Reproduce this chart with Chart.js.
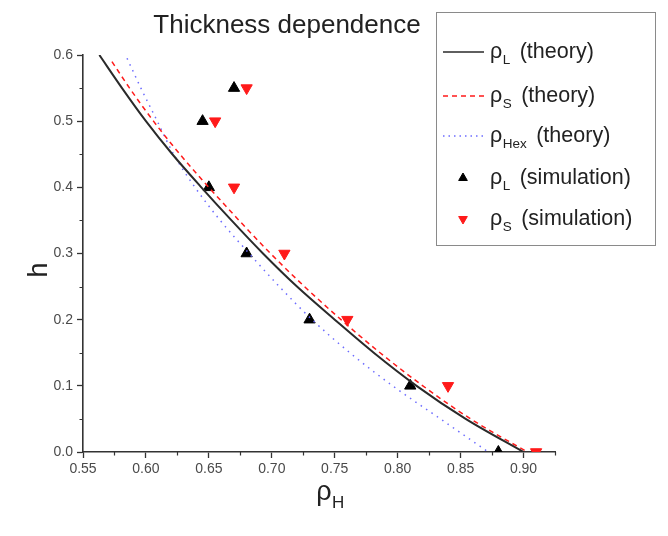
<!DOCTYPE html>
<html>
<head>
<meta charset="utf-8">
<script src="https://cdn.jsdelivr.net/npm/chart.js@4"></script>
<style>
  html, body { margin: 0; padding: 0; background: #fff; }
  #wrap { width: 668px; height: 536px; position: relative; }
</style>
</head>
<body>
<div id="wrap"><canvas id="c" width="668" height="536"></canvas></div>
<script>
// ---- data ----
const titleText = "Thickness dependence";
const hL = [0.60, 0.55, 0.50, 0.45, 0.40, 0.35, 0.30, 0.25, 0.20, 0.15, 0.10, 0.05, 0.00];
const rhoL_theory = [0.563, 0.581, 0.600, 0.621, 0.644, 0.668, 0.693, 0.720, 0.750, 0.781, 0.815, 0.854, 0.900];
const hS = [0.59, 0.55, 0.50, 0.45, 0.40, 0.35, 0.30, 0.25, 0.20, 0.15, 0.10, 0.05, 0.00];
const rhoS_theory = [0.573, 0.587, 0.606, 0.627, 0.650, 0.674, 0.699, 0.726, 0.755, 0.786, 0.820, 0.858, 0.903];
const hHex = [0.595, 0.55, 0.50, 0.45, 0.40, 0.35, 0.30, 0.25, 0.20, 0.15, 0.10, 0.05, 0.00];
const rhoHex_theory = [0.585, 0.596, 0.609, 0.622, 0.639, 0.659, 0.682, 0.706, 0.732, 0.762, 0.796, 0.834, 0.872];
const hSimL = [0.55, 0.50, 0.40, 0.30, 0.20, 0.10, 0.00];
const rhoL_sim = [0.670, 0.645, 0.650, 0.680, 0.730, 0.810, 0.880];
const hSimS = [0.55, 0.50, 0.40, 0.30, 0.20, 0.10, 0.00];
const rhoS_sim = [0.680, 0.655, 0.670, 0.710, 0.760, 0.840, 0.910];
const xMajorTicks = [0.55, 0.60, 0.65, 0.70, 0.75, 0.80, 0.85, 0.90];
const xMinorTicks = [0.575, 0.625, 0.675, 0.725, 0.775, 0.825, 0.875, 0.925];
const yMajorTicks = [0.0, 0.1, 0.2, 0.3, 0.4, 0.5, 0.6];
const yMinorTicks = [0.05, 0.15, 0.25, 0.35, 0.45, 0.55];
const legendLabels = [
  ["ρ", "L", " (theory)"],
  ["ρ", "S", " (theory)"],
  ["ρ", "Hex", " (theory)"],
  ["ρ", "L", " (simulation)"],
  ["ρ", "S", " (simulation)"]
];

// ---- styles ----
const FONT = '"Liberation Sans", Arial, Helvetica, sans-serif';
const AXIS = '#333333';
const C_L = '#2a2a2a', C_S = '#ff1a1a', C_HEX = '#6c6cff';

function pts(xs, ys) { return xs.map((x, i) => ({ x: x, y: ys[i] })); }

function drawTri(ctx, x, y, r, down, color) {
  ctx.save();
  ctx.fillStyle = color; ctx.strokeStyle = color; ctx.lineWidth = 1;
  ctx.beginPath();
  let rad = down ? Math.PI : 0;
  for (let k = 0; k < 3; k++) {
    const px = x + Math.sin(rad) * r, py = y - Math.cos(rad) * r;
    if (k === 0) ctx.moveTo(px, py); else ctx.lineTo(px, py);
    rad += 2 * Math.PI / 3;
  }
  ctx.closePath(); ctx.fill(); ctx.stroke();
  ctx.restore();
}

function subText(ctx, parts, x, y, big, small, color, align, gap) {
  ctx.save();
  ctx.fillStyle = color;
  ctx.textBaseline = 'alphabetic';
  ctx.textAlign = 'left';
  ctx.font = big + 'px ' + FONT;
  const w0 = ctx.measureText(parts[0]).width;
  ctx.font = small + 'px ' + FONT;
  const w1 = ctx.measureText(parts[1]).width;
  ctx.font = big + 'px ' + FONT;
  const w2 = parts[2] ? ctx.measureText(parts[2]).width : 0;
  let sx = x;
  if (align === 'center') sx = x - (w0 + w1 + w2) / 2;
  ctx.font = big + 'px ' + FONT;
  ctx.fillText(parts[0], sx, y);
  ctx.font = small + 'px ' + FONT;
  ctx.fillText(parts[1], sx + w0 + 0.5, y + big * 0.28);
  if (parts[2]) {
    ctx.font = big + 'px ' + FONT;
    ctx.fillText(parts[2], sx + w0 + w1 + (gap || 1), y);
  }
  ctx.restore();
}

const decor = {
  id: 'decor',
  afterDraw(chart) {
    const ctx = chart.ctx;
    const xs = chart.scales.x, ys = chart.scales.y;
    const ca = chart.chartArea;
    ctx.save();
    // minor ticks
    ctx.strokeStyle = AXIS; ctx.lineWidth = 1.2;
    ctx.beginPath();
    xMinorTicks.forEach(v => {
      const px = Math.round(xs.getPixelForValue(v)) + 0.5;
      ctx.moveTo(px, ca.bottom); ctx.lineTo(px, ca.bottom + 3.5);
    });
    yMinorTicks.forEach(v => {
      const py = Math.round(ys.getPixelForValue(v)) + 0.5;
      ctx.moveTo(ca.left, py); ctx.lineTo(ca.left - 3.5, py);
    });
    ctx.stroke();

    // title
    ctx.fillStyle = '#222';
    ctx.font = '26px ' + FONT;
    ctx.textAlign = 'center'; ctx.textBaseline = 'alphabetic';
    ctx.fillText(titleText, 287, 33);

    // axis titles
    subText(ctx, ["ρ", "H", ""], 330, 500, 27, 17, '#222', 'center');
    ctx.save();
    ctx.translate(47, 270);
    ctx.rotate(-Math.PI / 2);
    ctx.font = '27px ' + FONT;
    ctx.fillStyle = '#222';
    ctx.textAlign = 'center';
    ctx.textBaseline = 'alphabetic';
    ctx.fillText('h', 0, 0);
    ctx.restore();

    // legend box
    const bx = 436.5, by = 12.5, bw = 219, bh = 233;
    ctx.fillStyle = '#fff';
    ctx.fillRect(bx, by, bw, bh);
    ctx.strokeStyle = '#8a8a8a'; ctx.lineWidth = 1;
    ctx.strokeRect(bx, by, bw, bh);
    const rows = [52, 96, 136, 178, 219];
    const x0 = 443, x1 = 484, tx = 490;
    ctx.lineCap = 'butt';
    ctx.strokeStyle = C_L; ctx.lineWidth = 1.6; ctx.setLineDash([]);
    ctx.beginPath(); ctx.moveTo(x0, rows[0]); ctx.lineTo(x1, rows[0]); ctx.stroke();
    ctx.strokeStyle = C_S; ctx.lineWidth = 1.5; ctx.setLineDash([5, 4]);
    ctx.beginPath(); ctx.moveTo(x0, rows[1]); ctx.lineTo(x1, rows[1]); ctx.stroke();
    ctx.strokeStyle = C_HEX; ctx.lineWidth = 1.5; ctx.setLineDash([1.5, 4]);
    ctx.beginPath(); ctx.moveTo(x0, rows[2]); ctx.lineTo(x1, rows[2]); ctx.stroke();
    ctx.setLineDash([]);
    drawTri(ctx, 463, rows[3], 5, false, '#000');
    drawTri(ctx, 463, rows[4], 5, true, C_S);
    legendLabels.forEach((p, i) => {
      subText(ctx, p, tx, rows[i] + 6, 21.5, 13.5, '#222', 'left', 4);
    });
    ctx.restore();
  }
};

const chart = new Chart(document.getElementById('c'), {
  type: 'scatter',
  data: {
    datasets: [
      { label: 'ρL (theory)', data: pts(rhoL_theory, hL), showLine: true, borderColor: C_L,
        borderWidth: 2, pointRadius: 0, cubicInterpolationMode: 'monotone', fill: false },
      { label: 'ρS (theory)', data: pts(rhoS_theory, hS), showLine: true, borderColor: C_S,
        borderWidth: 1.5, borderDash: [5, 4], pointRadius: 0, cubicInterpolationMode: 'monotone', fill: false },
      { label: 'ρHex (theory)', data: pts(rhoHex_theory, hHex), showLine: true, borderColor: C_HEX,
        borderWidth: 1.5, borderDash: [1.5, 5], pointRadius: 0, cubicInterpolationMode: 'monotone', fill: false },
      { label: 'ρL (simulation)', data: pts(rhoL_sim, hSimL), showLine: false, pointStyle: 'triangle',
        pointRadius: 6.5, pointBackgroundColor: '#000', pointBorderColor: '#000', pointBorderWidth: 1, clip: 0 },
      { label: 'ρS (simulation)', data: pts(rhoS_sim, hSimS), showLine: false, pointStyle: 'triangle',
        pointRotation: 180, pointRadius: 6.5, pointBackgroundColor: C_S, pointBorderColor: C_S, pointBorderWidth: 1, clip: 0 }
    ]
  },
  options: {
    responsive: false,
    animation: false,
    devicePixelRatio: 1,
    layout: { padding: { left: 10, right: 113, top: 55, bottom: 10 } },
    plugins: { legend: { display: false }, title: { display: false }, tooltip: { enabled: false } },
    scales: {
      x: {
        type: 'linear', min: 0.55, max: 0.925,
        afterFit: s => { s.height = 536 - 452 - 10; },
        afterBuildTicks: s => { s.ticks = xMajorTicks.map(v => ({ value: v })); },
        ticks: { includeBounds: false, color: '#4a4a4a', font: { family: FONT, size: 14 }, padding: 3,
                 maxRotation: 0, autoSkip: false, callback: v => v.toFixed(2) },
        grid: { display: true, drawOnChartArea: false, drawTicks: true, tickLength: 6, tickColor: AXIS, tickWidth: 1.3 },
        border: { display: true, color: AXIS, width: 1.6 }
      },
      y: {
        type: 'linear', min: 0, max: 0.6,
        afterFit: s => { s.width = 73; },
        afterBuildTicks: s => { s.ticks = yMajorTicks.map(v => ({ value: v })); },
        ticks: { includeBounds: false, color: '#4a4a4a', font: { family: FONT, size: 14 }, padding: 4,
                 autoSkip: false, callback: v => v.toFixed(1) },
        grid: { display: true, drawOnChartArea: false, drawTicks: true, tickLength: 6, tickColor: AXIS, tickWidth: 1.3 },
        border: { display: true, color: AXIS, width: 1.6 }
      }
    }
  },
  plugins: [decor]
});
</script>
</body>
</html>
